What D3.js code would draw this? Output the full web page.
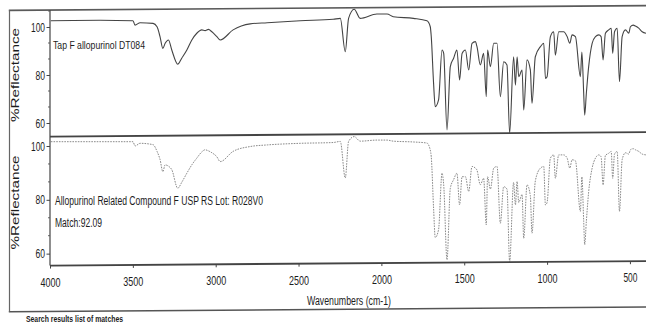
<!DOCTYPE html>
<html><head><meta charset="utf-8">
<script src="https://cdn.jsdelivr.net/npm/d3@7"></script>
<style>
body{margin:0;background:#fff}
svg{display:block}
text{font-family:"Liberation Sans Narrow","Liberation Sans",Arial,sans-serif;fill:#1c1c1c}
</style>
</head><body>
<svg id="c" width="646" height="329"></svg>
<script>
// ---------------- DATA ----------------
const wavenumbers = [
3995,3698,3499,3487,3456,3378,3354,3336,3319,3305,
3285,3265,3229,3205,3174,3144,3114,3084,3064,3044,
3023,2993,2973,2895,2792,2689,2490,2291,2248,2218,
2198,2164,2128,2027,1966,1928,1807,1725,1705,1699,
1685,1675,1655,1634,1624,1604,1584,1564,1544,1528,
1513,1493,1473,1453,1433,1423,1403,1383,1367,1359,
1342,1322,1302,1282,1262,1242,1226,1202,1191,1181,
1171,1151,1141,1121,1101,1091,1071,1040,1020,1010,
1000,980,960,950,930,900,879,863,849,829,
799,790,779,773,763,749,728,708,688,674,
662,648,628,613,604,593,577,563,547,527,
507,497,480,467,447,426,403];
const sampleReflectance = [
102.6,102.8,102.6,100.8,101.8,101.5,100.1,96.0,91.1,93.2,
94.6,90.4,84.5,87.0,90.4,94.6,97.4,98.8,98.5,99.0,
98.0,96.0,94.6,98.8,101.3,101.8,102.6,103.2,103.6,89.7,
103.6,107.4,103.6,105.4,105.4,104.3,103.6,102.6,100.1,96.0,
76.5,66.8,69.6,90.4,89.0,57.1,83.5,87.0,90.4,77.9,
89.0,90.4,82.1,93.2,93.9,91.8,84.2,89.0,71.0,90.4,
83.5,93.2,93.2,71.0,85.5,84.2,55.7,87.6,75.8,87.6,
79.3,82.1,65.4,86.3,82.1,68.2,87.6,91.8,93.2,78.6,
79.3,96.0,98.0,88.3,98.0,98.0,96.0,93.2,96.7,96.0,
79.3,89.6,72.4,63.3,72.4,83.5,93.2,96.0,96.7,96.0,
86.3,97.4,98.8,99.5,89.0,98.0,99.5,77.2,96.0,98.8,
97.4,100.1,100.8,100.4,99.5,98.0,97.4];
const referenceReflectance = [
101.6,101.6,101.6,100.0,101.0,100.5,98.0,95.0,90.5,93.0,
92.5,91.2,84.3,86.5,89.9,93.0,95.5,97.8,98.6,98.2,
97.5,96.0,94.2,98.0,99.8,100.4,101.0,101.3,101.7,88.1,
101.7,103.5,101.8,102.2,102.2,101.8,101.5,101.1,98.5,96.0,
76.9,66.0,68.9,89.9,85.6,57.7,84.3,87.5,89.9,78.1,
88.6,88.6,83.1,92.4,91.8,91.0,85.6,88.0,70.7,88.6,
84.0,91.8,92.4,71.3,84.9,84.0,57.1,86.5,78.1,86.8,
79.0,82.0,65.7,85.6,81.5,67.6,87.0,91.8,92.4,78.1,
79.0,95.5,96.7,88.0,96.7,96.7,95.5,91.8,94.9,94.5,
75.7,88.5,72.0,63.3,72.0,83.0,91.8,95.5,96.7,96.0,
85.6,96.5,97.3,98.0,88.0,97.0,98.0,75.7,94.9,97.5,
97.0,98.6,99.0,98.6,98.0,97.0,96.7];
const xTickValues = [4000,3500,3000,2500,2000,1500,1000,500];
const yTickValues = [60,80,100];
const yMinorTickValues = [66.67,73.33,86.67,93.33,106.67];
const yAxisTitle = "%Reflectance";
const xAxisTitle = "Wavenumbers (cm-1)";
const sampleLabel = "Tap F allopurinol DT084";
const referenceLabel = "Allopurinol Related Compound F USP RS Lot: R028V0";
const matchLabel = "Match:92.09";
const footerLabel = "Search results list of matches";

// ---------------- LAYOUT ----------------
const W = 646;
const SKEW = -0.0075, CX = 323;           // slight tilt of the scanned frame
const sk = px => (px - CX) * SKEW;
const plotL = 50, plotR = 646, frameL = 9.5;
const topY = 8, divY = 134.5, axisY = 263.5, frameBY = 309.5;

const x  = d3.scaleLinear().domain([4000, 403]).range([plotL, plotR]);
const y1 = d3.scaleLinear().domain([55, 108]).range([135, 7.8]);
const y2 = d3.scaleLinear().domain([56, 104.5]).range([264.4, 133.9]);

const svg = d3.select("#c");

// spectra
const rows = wavenumbers.map((w, i) => ({w, s: sampleReflectance[i], r: referenceReflectance[i]}));
const lineS = d3.line().x(d => x(d.w)).y(d => y1(d.s)).curve(d3.curveMonotoneX);
const lineR = d3.line().x(d => x(d.w)).y(d => y2(d.r)).curve(d3.curveMonotoneX);

svg.append("path").datum(rows).attr("d", lineR)
  .attr("fill", "none").attr("stroke", "#8a8a8a").attr("stroke-width", 1)
  .attr("stroke-dasharray", "1.6 1.1");
svg.append("path").datum(rows).attr("d", lineS)
  .attr("fill", "none").attr("stroke", "#444").attr("stroke-width", 1.1);

// frame lines
function hline(x1, x2, yc, w, c) {
  svg.append("line").attr("x1", x1).attr("x2", x2)
    .attr("y1", yc + sk(x1)).attr("y2", yc + sk(x2))
    .attr("stroke", c).attr("stroke-width", w);
}
hline(frameL - 0.7, W, topY, 1.6, "#5a5a5a");
hline(plotL, W, divY, 1.8, "#444");
hline(plotL, W, axisY, 1.8, "#444");
hline(frameL - 0.7, W, frameBY, 1.5, "#555");
svg.append("line").attr("x1", frameL).attr("x2", frameL)
  .attr("y1", topY + sk(frameL)).attr("y2", frameBY + sk(frameL))
  .attr("stroke", "#666").attr("stroke-width", 1.2);
svg.append("line").attr("x1", plotL).attr("x2", plotL)
  .attr("y1", topY + sk(plotL)).attr("y2", axisY + sk(plotL))
  .attr("stroke", "#444").attr("stroke-width", 1.2);

// y axes
function yAxis(scale) {
  const g = svg.append("g").attr("transform", `translate(${plotL},0)`)
    .call(d3.axisLeft(scale).tickValues(yTickValues).tickSize(3.5).tickPadding(1.5));
  g.select(".domain").remove();
  g.selectAll(".tick line").attr("stroke", "#444").attr("stroke-width", 1);
  g.selectAll(".tick text").attr("font-size", 13).attr("fill", "#1c1c1c")
    .attr("textLength", d => d >= 100 ? 14 : 9.5).attr("lengthAdjust", "spacingAndGlyphs");
  const [lo, hi] = scale.domain();
  g.selectAll(".minor").data(yMinorTickValues.filter(v => v > lo && v < hi)).join("line")
    .attr("class", "minor").attr("x1", -2).attr("x2", 0)
    .attr("y1", d => scale(d)).attr("y2", d => scale(d))
    .attr("stroke", "#555").attr("stroke-width", 0.9);
}
yAxis(y1);
yAxis(y2);

// x axis
const gx = svg.append("g").attr("transform", `translate(0,${axisY})`)
  .call(d3.axisBottom(x).tickValues(xTickValues).tickSize(3).tickFormat(d3.format("d")));
gx.select(".domain").remove();
gx.selectAll(".tick line").attr("stroke", "#444")
  .attr("y1", d => sk(x(d))).attr("y2", d => sk(x(d)) + 3);
gx.selectAll(".tick text").attr("font-size", 13.5).attr("fill", "#1c1c1c")
  .attr("y", d => 21 + sk(x(d))).attr("dy", 0)
  .attr("textLength", d => d >= 1000 ? 20 : 14).attr("lengthAdjust", "spacingAndGlyphs");

// titles
[75, 202.5].forEach(cy => {
  svg.append("text").attr("transform", `translate(18.5,${cy}) rotate(-90)`)
    .attr("text-anchor", "middle").attr("font-size", 11)
    .attr("textLength", 94).attr("lengthAdjust", "spacingAndGlyphs").text(yAxisTitle);
});
svg.append("text").attr("x", 307).attr("y", 304.5).attr("font-size", 12.5)
  .attr("textLength", 84).attr("lengthAdjust", "spacingAndGlyphs").text(xAxisTitle);

svg.append("text").attr("x", 53).attr("y", 48.5).attr("font-size", 10.5)
  .attr("textLength", 92).attr("lengthAdjust", "spacingAndGlyphs").text(sampleLabel);
svg.append("text").attr("x", 55).attr("y", 204.5).attr("font-size", 12.5)
  .attr("textLength", 208).attr("lengthAdjust", "spacingAndGlyphs").text(referenceLabel);
svg.append("text").attr("x", 55).attr("y", 226.5).attr("font-size", 12.5)
  .attr("textLength", 47).attr("lengthAdjust", "spacingAndGlyphs").text(matchLabel);
svg.append("text").attr("x", 26).attr("y", 322).attr("font-size", 9.5).attr("font-weight", "bold")
  .attr("textLength", 97).attr("lengthAdjust", "spacingAndGlyphs").text(footerLabel);
</script>
</body></html>
